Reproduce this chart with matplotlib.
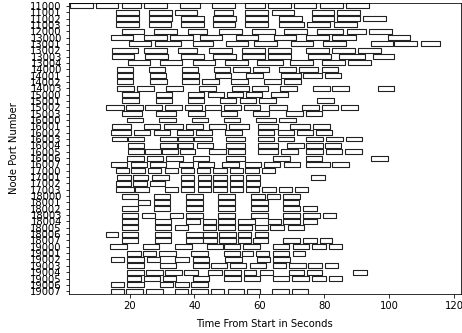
import matplotlib
matplotlib.use("Agg")
import matplotlib.pyplot as plt

# port labels, top to bottom
ports = ['11000', '11001', '11002', '11003', '12000',
         '13000', '13001', '13002', '13003', '13004',
         '14000', '14001', '14002', '14003',
         '15000', '15001', '15002', '15003',
         '16000', '16001', '16002', '16003', '16004', '16005', '16006', '16007',
         '17000', '17001', '17002', '17003',
         '18000', '18001', '18002', '18003', '18004', '18005', '18006', '18007',
         '19000', '19001', '19002', '19003', '19004', '19005', '19006', '19007']

# (start, duration) in seconds for each port
bars = [
    [(1.8, 6.8), (9.6, 6.8), (17.6, 6.0), (24.4, 7.1), (35.6, 6.1), (45.5, 7.1), (55.7, 6.1), (62.8, 6.9), (70.8, 6.8), (78.6, 7.1), (86.6, 7.1)],
    [(15.9, 7.0), (25.9, 7.1), (34.1, 6.8), (46.0, 5.9), (55.7, 7.1), (63.9, 6.9), (76.2, 6.8), (84.0, 7.1)],
    [(15.9, 7.0), (25.9, 7.1), (35.8, 7.1), (45.8, 7.1), (55.7, 7.1), (65.9, 7.1), (76.2, 6.8), (84.0, 7.1), (92.0, 7.0)],
    [(15.9, 7.0), (25.9, 6.8), (35.8, 7.1), (45.8, 6.8), (55.7, 7.1), (65.9, 7.9), (74.8, 6.9), (83.0, 7.1)],
    [(17.8, 6.8), (27.4, 7.1), (37.9, 6.0), (47.6, 7.1), (57.8, 7.1), (67.7, 7.1), (77.9, 7.9), (86.9, 6.0), (93.9, 6.9)],
    [(14.2, 6.9), (24.4, 7.1), (32.5, 7.0), (41.7, 6.9), (52.7, 7.0), (64.6, 6.6), (74.5, 7.0), (82.5, 7.3), (99.6, 6.8)],
    [(19.8, 6.8), (27.7, 8.1), (39.7, 6.1), (49.6, 6.9), (58.3, 7.0), (69.7, 6.9), (79.6, 7.0), (94.5, 6.8), (101.5, 7.0), (109.7, 5.9)],
    [(14.7, 7.9), (24.4, 7.1), (34.8, 5.9), (44.5, 7.1), (54.5, 7.1), (62.8, 6.9), (74.5, 7.0), (82.5, 7.1), (90.4, 7.2)],
    [(14.7, 6.8), (24.7, 7.0), (35.8, 7.1), (45.8, 7.1), (54.5, 7.1), (62.8, 6.9), (75.1, 6.9), (84.5, 8.0), (94.9, 6.6)],
    [(19.5, 6.9), (29.5, 6.8), (39.4, 6.9), (49.4, 7.1), (59.2, 8.0), (69.4, 7.0), (79.4, 7.0), (87.4, 7.0)],
    [(16.0, 5.1), (25.9, 5.1), (36.1, 5.1), (46.0, 5.1), (51.9, 5.1), (58.0, 5.1), (66.0, 5.3), (72.3, 5.9), (79.2, 5.1)],
    [(16.0, 5.1), (26.2, 5.1), (36.3, 5.2), (46.3, 5.1), (56.0, 5.1), (66.7, 6.1), (73.3, 5.9), (80.2, 5.1)],
    [(16.0, 5.1), (26.4, 5.1), (36.3, 5.2), (42.4, 5.1), (51.4, 5.1), (61.4, 5.3), (67.5, 5.3)],
    [(16.2, 5.1), (22.3, 5.1), (31.3, 5.3), (41.5, 5.1), (51.6, 5.1), (57.8, 5.0), (66.4, 5.2), (76.4, 5.3), (82.3, 5.3), (96.4, 5.1)],
    [(17.8, 5.1), (28.0, 5.1), (37.9, 5.1), (44.1, 5.1), (49.9, 5.1), (55.8, 5.1), (63.6, 5.3)],
    [(17.8, 5.1), (28.0, 5.1), (37.9, 5.1), (47.8, 5.1), (54.0, 5.1), (59.9, 5.1), (77.9, 5.1)],
    [(12.9, 5.4), (19.0, 5.1), (24.9, 5.1), (31.0, 5.1), (37.1, 5.1), (43.2, 5.1), (49.2, 5.1), (55.3, 4.8), (63.1, 5.3), (73.0, 5.4), (79.2, 5.1), (85.3, 5.0)],
    [(17.8, 6.1), (28.2, 6.1), (38.1, 5.1), (48.1, 5.1), (58.0, 5.1), (68.2, 5.1), (74.3, 5.1)],
    [(19.3, 4.9), (29.2, 5.1), (39.2, 5.1), (49.1, 4.9), (59.0, 6.1), (66.2, 5.1)],
    [(14.5, 6.1), (24.4, 5.1), (30.5, 6.1), (37.4, 5.1), (44.6, 5.1), (50.7, 6.1), (59.5, 6.1), (69.4, 6.1), (76.4, 5.3)],
    [(14.2, 6.1), (21.3, 5.1), (27.4, 5.1), (34.6, 5.1), (40.4, 5.1), (49.4, 5.1), (59.5, 5.1), (65.7, 5.1), (71.5, 5.1), (77.4, 5.1)],
    [(14.5, 4.8), (19.6, 4.8), (29.5, 5.1), (35.0, 4.7), (40.0, 5.5), (49.6, 6.1), (59.5, 5.1), (65.7, 5.1), (74.5, 5.1), (80.6, 5.1), (86.6, 5.1)],
    [(19.6, 4.8), (29.5, 5.1), (34.8, 4.9), (40.7, 5.1), (49.6, 6.1), (59.5, 6.1), (68.5, 5.1), (74.5, 5.1), (80.1, 5.1)],
    [(19.6, 4.8), (24.7, 5.1), (30.1, 4.8), (35.6, 4.6), (44.5, 5.1), (50.4, 5.1), (59.5, 6.1), (66.7, 5.1), (74.5, 5.1), (80.6, 4.9), (86.4, 5.1)],
    [(19.3, 5.1), (25.4, 4.9), (31.3, 5.1), (39.5, 5.1), (49.6, 6.1), (64.3, 5.1), (74.3, 5.1), (94.4, 5.1)],
    [(14.2, 5.1), (20.3, 5.1), (26.2, 5.1), (35.1, 4.6), (41.0, 5.1), (48.5, 5.1), (55.7, 4.9), (61.4, 5.1), (67.5, 5.1), (74.5, 7.2), (82.5, 5.1)],
    [(15.7, 4.1), (20.6, 4.1), (25.7, 4.1), (30.8, 4.1), (35.9, 4.1), (40.7, 4.1), (45.8, 4.1), (50.9, 4.1), (55.7, 4.2), (60.8, 4.1)],
    [(16.0, 4.3), (21.0, 4.6), (27.0, 5.1), (35.9, 4.1), (41.0, 4.1), (45.8, 4.1), (50.9, 4.1), (56.0, 4.1), (75.9, 4.3)],
    [(15.9, 4.4), (21.0, 4.4), (26.4, 4.6), (35.9, 4.1), (41.0, 4.1), (45.8, 4.1), (50.9, 4.1), (56.0, 4.1)],
    [(15.9, 5.4), (21.8, 4.1), (30.8, 4.1), (35.9, 4.1), (41.0, 4.1), (45.8, 4.1), (50.9, 4.1), (56.0, 3.9), (60.9, 4.1), (65.9, 4.1), (71.0, 4.1)],
    [(17.6, 5.1), (27.4, 5.1), (37.4, 5.1), (47.3, 5.1), (57.5, 4.1), (62.3, 4.1), (67.4, 5.1)],
    [(22.5, 3.9), (27.4, 5.1), (37.4, 5.1), (47.3, 5.1), (57.5, 5.1), (67.2, 5.1)],
    [(17.6, 5.1), (27.4, 5.1), (37.4, 5.1), (47.3, 5.1), (57.5, 5.1), (67.4, 5.1), (73.5, 4.4)],
    [(17.6, 5.1), (23.7, 4.1), (32.5, 4.1), (37.4, 5.1), (47.3, 5.1), (57.5, 5.1), (67.4, 5.1), (73.5, 5.1), (79.6, 3.9)],
    [(17.6, 5.1), (27.7, 5.1), (37.4, 4.3), (42.5, 4.1), (47.3, 5.1), (53.4, 5.1), (62.6, 4.1), (67.4, 5.1), (73.5, 4.4)],
    [(17.8, 4.9), (27.7, 5.1), (33.9, 4.1), (42.5, 4.1), (47.3, 5.1), (53.4, 4.4), (58.5, 4.1), (63.3, 4.4), (68.7, 5.1)],
    [(12.7, 3.9), (17.6, 5.1), (27.7, 5.1), (37.4, 5.1), (42.7, 4.1), (47.6, 5.1), (53.4, 4.1), (58.5, 4.1)],
    [(17.6, 5.1), (27.7, 5.1), (37.4, 5.1), (42.7, 4.1), (47.6, 5.1), (53.4, 4.1), (58.0, 4.6), (67.4, 5.1), (73.5, 4.4), (78.6, 3.9)],
    [(14.0, 5.1), (24.1, 5.1), (34.1, 5.1), (43.8, 5.1), (49.2, 4.7), (55.0, 5.1), (64.1, 5.1), (70.3, 5.1), (76.2, 4.3), (81.3, 4.1)],
    [(19.3, 4.1), (24.1, 4.1), (29.2, 5.1), (39.0, 5.1), (49.0, 5.1), (54.5, 3.6), (59.0, 4.1), (64.1, 5.1), (70.3, 3.7)],
    [(14.2, 4.1), (19.3, 5.1), (25.4, 3.9), (34.1, 4.1), (39.4, 5.1), (49.4, 5.1), (59.3, 4.1), (64.3, 5.1)],
    [(19.3, 5.1), (29.3, 5.1), (39.4, 5.1), (45.1, 4.8), (50.9, 5.1), (57.0, 5.1), (64.1, 4.1), (69.0, 5.3), (75.1, 4.1), (80.2, 4.1)],
    [(19.3, 5.1), (25.1, 5.1), (31.0, 5.1), (36.9, 4.3), (44.1, 4.3), (49.2, 5.1), (55.2, 3.9), (60.1, 4.1), (69.2, 4.6), (74.8, 4.4), (88.9, 4.3)],
    [(19.3, 4.1), (24.4, 4.9), (30.2, 4.1), (39.4, 5.1), (49.2, 5.1), (55.3, 4.8), (64.3, 4.9), (70.0, 5.3), (76.2, 4.3), (81.3, 4.2)],
    [(14.2, 4.1), (19.3, 5.1), (29.3, 4.1), (34.1, 4.1), (39.0, 5.1)],
    [(14.2, 4.1), (19.0, 5.1), (25.1, 5.1), (33.9, 4.1), (39.0, 5.1), (45.1, 4.1), (50.2, 5.1), (56.3, 3.8), (63.9, 5.3), (70.0, 5.1)],
]

fig = plt.figure(figsize=(462 / 72, 333 / 72), dpi=72)
ax = fig.add_axes([0.149, 0.116, 0.848, 0.876])

h = 0.78
for i, row in enumerate(bars):
    ax.broken_barh(row, (i - h / 2, h), facecolors='white', edgecolors='#222222', linewidth=1.1)

ax.set_yticks(range(len(ports)))
ax.set_yticklabels(ports)
ax.set_ylim(len(ports) - 0.5, -0.5)
ax.set_xlim(1.3, 122)
ax.set_xticks([20, 40, 60, 80, 100, 120])

ax.set_xlabel('Time From Start in Seconds', labelpad=8)
ax.set_ylabel('Node Port Number', labelpad=11)

fig.savefig('out.png', dpi=72)
